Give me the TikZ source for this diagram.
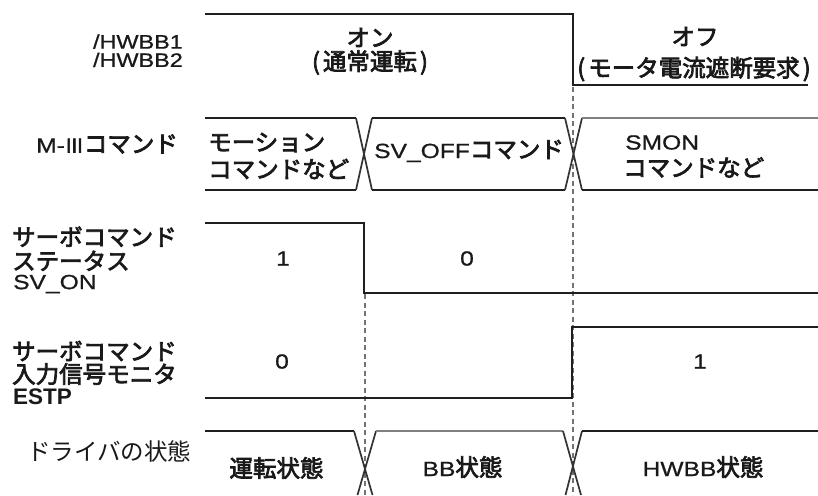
\documentclass[tikz,border=0pt]{standalone}
\usepackage{fontspec}
\setmainfont{Liberation Sans}[FakeStretch=1.2, FakeBold=0.8]
\newfontfamily\plainsf{Liberation Sans}
\newfontfamily\jpf{Noto Sans CJK JP}
\newfontfamily\jpm{Noto Sans CJK JP}[FakeBold=3]
\newcommand\Jb[1]{{\fontsize{23.5}{24}\selectfont\jpm #1}}
\newcommand\Jr[1]{{\fontsize{23.5}{24}\selectfont\jpf #1}}
\newcommand\Jn[1]{{\fontsize{19}{19}\selectfont\jpm #1}}
\tikzset{
  txt/.style={inner sep=0pt, font=\fontsize{20.5}{21}\selectfont, text=black!90},
  sig/.style={line width=2.8pt, draw=black!88, line cap=butt, line join=miter},
  sigg/.style={line width=2.4pt, draw=black!50, line cap=butt},
  cross/.style={line width=1.7pt, draw=black!80},
  guide/.style={line width=1.2pt, draw=black!55, dash pattern=on 5pt off 3.5pt},
}
\begin{document}
\begin{tikzpicture}[x=1pt,y=-1pt]
\useasboundingbox[fill=white] (0,0) rectangle (818,495);

% guide lines
\draw[guide] (573,87) -- (573,495);
\draw[guide] (365,294) -- (365,495);

% /HWBB
\draw[sig] (205,14) -- (573,14) -- (573,85) -- (808,85);

% M-III command bus
\draw[sig] (205,118) -- (356,118);
\draw[sig] (205,190) -- (356,190);
\draw[cross] (356,118) -- (372,190);
\draw[cross] (356,190) -- (372,118);
\draw[sig] (372,118) -- (565,118);
\draw[sig] (372,190) -- (565,190);
\draw[cross] (565,118) -- (582,190);
\draw[cross] (565,190) -- (582,118);
\draw[sigg] (582,118) -- (818,118);
\draw[sig] (582,190) -- (818,190);

% SV_ON
\draw[sig] (205,223) -- (364,223) -- (364,293) -- (818,293);

% ESTP
\draw[sig] (205,398) -- (572,398) -- (572,327) -- (818,327);

% driver state bus
\draw[sig] (205,431) -- (354,431);
\draw[cross] (354,431) -- (372.5,495);
\draw[cross] (376,431) -- (357.5,495);
\draw[sigg] (376,431) -- (563,431);
\draw[cross] (563,431) -- (581,495);
\draw[cross] (582,431) -- (565.5,495);
\draw[sig] (582,431) -- (818,431);

% labels
\node[txt, anchor=east, align=right, font=\fontsize{19.5}{18.3}\selectfont] (hw) at (183,50.8) {/HWBB1\\/HWBB2};
\node[txt] (on1) at (370,37.5) {\Jb{オン}};
\node[txt] (on2) at (370,62.5) {\Jb{(\hspace{3pt}通常運転\hspace{3pt})}};
\node[txt] (off1) at (695,36.5) {\Jb{オフ}};
\node[txt] (off2) at (694,69) {\Jb{(\hspace{3pt}モータ電流遮断要求\hspace{3pt})}};

\node[txt, anchor=west] (m3) at (36,144) {M-\Jn{Ⅲ}\Jb{コマンド}};
\node[txt, anchor=west] (mo1) at (208,142.5) {\Jb{モーション}};
\node[txt, anchor=west] (mo2) at (208,169) {\Jb{コマンドなど}};
\node[txt, anchor=west] (svoff) at (374,151) {SV\_OFF\Jb{コマンド}};
\node[txt, anchor=west] (smon1) at (625,142.5) {SMON};
\node[txt, anchor=west] (smon2) at (623,167.5) {\Jb{コマンドなど}};

\node[txt, anchor=west] (sv1) at (12,236.7) {\Jb{サーボコマンド}};
\node[txt, anchor=west] (sv2) at (12,260.8) {\Jb{ステータス}};
\node[txt, anchor=west] (sv3) at (13,284) {SV\_ON};
\node[txt] (sva) at (283,258.5) {1};
\node[txt] (svb) at (467,258.5) {0};

\node[txt, anchor=west] (es1) at (12,351) {\Jb{サーボコマンド}};
\node[txt, anchor=west] (es2) at (12,374) {\Jb{入力信号モニタ}};
\node[txt, anchor=west, font=\fontsize{22.5}{23}\plainsf\bfseries] (es3) at (13,396.5) {ESTP};
\node[txt] (esa) at (282,361.5) {0};
\node[txt] (esb) at (700,361.5) {1};

\node[txt, anchor=west] (drv) at (27,451) {\Jr{ドライバの状態}};
\node[txt] (st1) at (276.5,468) {\Jb{運転状態}};
\node[txt] (st2) at (462.5,467) {BB\Jb{状態}};
\node[txt] (st3) at (703,467) {HWBB\Jb{状態}};
\end{tikzpicture}
\end{document}
